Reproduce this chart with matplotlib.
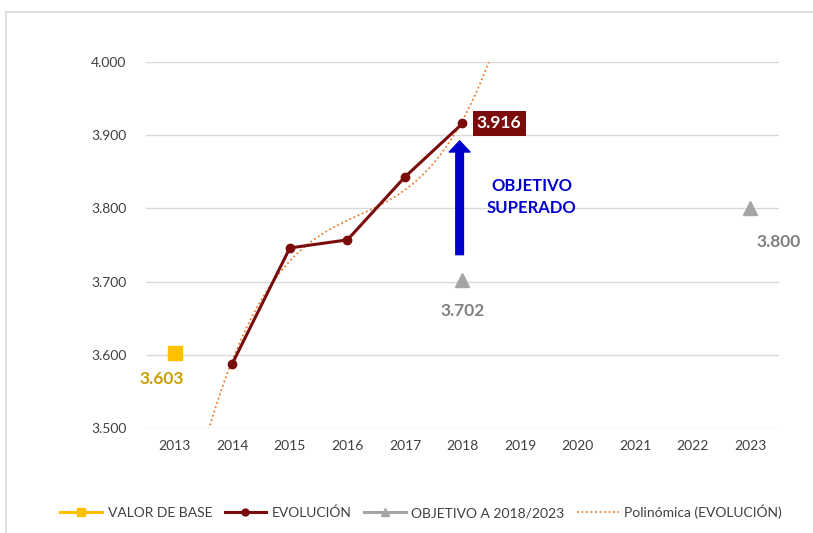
import numpy as np
import matplotlib
matplotlib.use('Agg')
import matplotlib.pyplot as plt
from matplotlib.lines import Line2D

plt.rcParams['font.family'] = ['Lato', 'DejaVu Sans']

# datos
years = [2013, 2014, 2015, 2016, 2017, 2018, 2019, 2020, 2021, 2022, 2023]
base_year = [2013]
base_val = [3.603]
evo_years = [2014, 2015, 2016, 2017, 2018]
evo_vals = [3.588, 3.746, 3.757, 3.843, 3.916]
obj_years = [2018, 2023]
obj_vals = [3.702, 3.800]
yticks = [3.5, 3.6, 3.7, 3.8, 3.9, 4.0]

c_base = '#ffc000'
c_base_txt = '#c9a000'
c_evo = '#7b0c0c'
c_obj = '#a5a5a5'
c_trend = '#ed7d31'
c_arrow = '#0000cc'

fig = plt.figure(figsize=(8.13, 5.33), dpi=100)
W, H = 813, 533

# marco del gráfico
fig.add_artist(Line2D([6 / W, 6 / W], [0, 1 - 12 / H], color='#d9d9d9', lw=1.2))
fig.add_artist(Line2D([6 / W, 1], [1 - 12 / H, 1 - 12 / H], color='#d9d9d9', lw=1.2))

ax = fig.add_axes([146 / W, 1 - 428 / H, (779 - 146) / W, (428 - 62) / H])
ax.set_xlim(2012.5, 2023.5)
ax.set_ylim(3.5, 4.0)
ax.set_xticks(years)
ax.set_yticks(yticks)
ax.set_yticklabels([f'{v:.3f}' for v in yticks])
ax.grid(axis='y', color='#d9d9d9', lw=1)
ax.set_axisbelow(True)
for s in ax.spines.values():
    s.set_visible(False)
ax.tick_params(length=0, labelsize=10, colors='#404040')
ax.tick_params(axis='y', pad=14)
ax.tick_params(axis='x', pad=9)

# tendencia polinómica (orden 3 sobre índice de la serie)
idx = np.arange(1, len(evo_vals) + 1)
coef = np.polyfit(idx, evo_vals, 3)
xt = np.linspace(0.4, 5.6, 200)
ax.plot(xt + evo_years[0] - 1, np.polyval(coef, xt), color=c_trend, lw=1.3,
        ls=(0, (1, 1.5)), clip_on=True, zorder=2)

ax.plot(evo_years, evo_vals, color=c_evo, lw=2.2, marker='o', ms=6, zorder=3)
ax.plot(base_year, base_val, color=c_base, ls='none', marker='s', ms=10, zorder=3)
ax.plot(obj_years, obj_vals, color=c_obj, ls='none', marker='^', ms=10, zorder=3)

# etiquetas
ax.text(base_year[0] - 0.22, base_val[0] - 0.036, f'{base_val[0]:.3f}',
        color=c_base_txt, fontsize=12.5, fontweight='bold', ha='center', va='center')
ax.text(evo_years[-1] + 0.25, evo_vals[-1], f'{evo_vals[-1]:.3f}', color='white',
        fontsize=12.5, fontweight='bold', ha='left', va='center',
        bbox=dict(boxstyle='square,pad=0.25', fc=c_evo, ec='none'))
ax.text(obj_years[0], obj_vals[0] - 0.042, f'{obj_vals[0]:.3f}', color='#808080',
        fontsize=12.5, fontweight='bold', ha='center', va='center')
ax.text(obj_years[1] + 0.49, obj_vals[1] - 0.046, f'{obj_vals[1]:.3f}', color='#808080',
        fontsize=12.5, fontweight='bold', ha='center', va='center')

ax.annotate('', xy=(obj_years[0] - 0.05, 3.896), xytext=(obj_years[0] - 0.05, 3.733),
            arrowprops=dict(arrowstyle='simple,head_width=1.5,head_length=0.8,tail_width=0.55',
                            fc=c_arrow, ec=c_arrow))
ax.text(2019.2, 3.815, 'OBJETIVO\nSUPERADO', color=c_arrow, fontsize=12,
        fontweight='bold', ha='center', va='center', linespacing=1.45)

handles = [
    Line2D([], [], color=c_base, lw=2.2, marker='s', ms=6),
    Line2D([], [], color=c_evo, lw=2.2, marker='o', ms=5),
    Line2D([], [], color=c_obj, lw=2.2, marker='^', ms=6),
    Line2D([], [], color=c_trend, lw=1.3, ls=(0, (1, 1.5))),
]
labels = ['VALOR DE BASE', 'EVOLUCIÓN', 'OBJETIVO A 2018/2023', 'Polinómica (EVOLUCIÓN)']
fig.legend(handles, labels, loc='center', bbox_to_anchor=(0.518, 1 - 512 / H), ncol=4,
           frameon=False, fontsize=10, handlelength=3.0, columnspacing=0.9,
           handletextpad=0.4, labelcolor='#404040')

fig.savefig('out.png', dpi=100)
